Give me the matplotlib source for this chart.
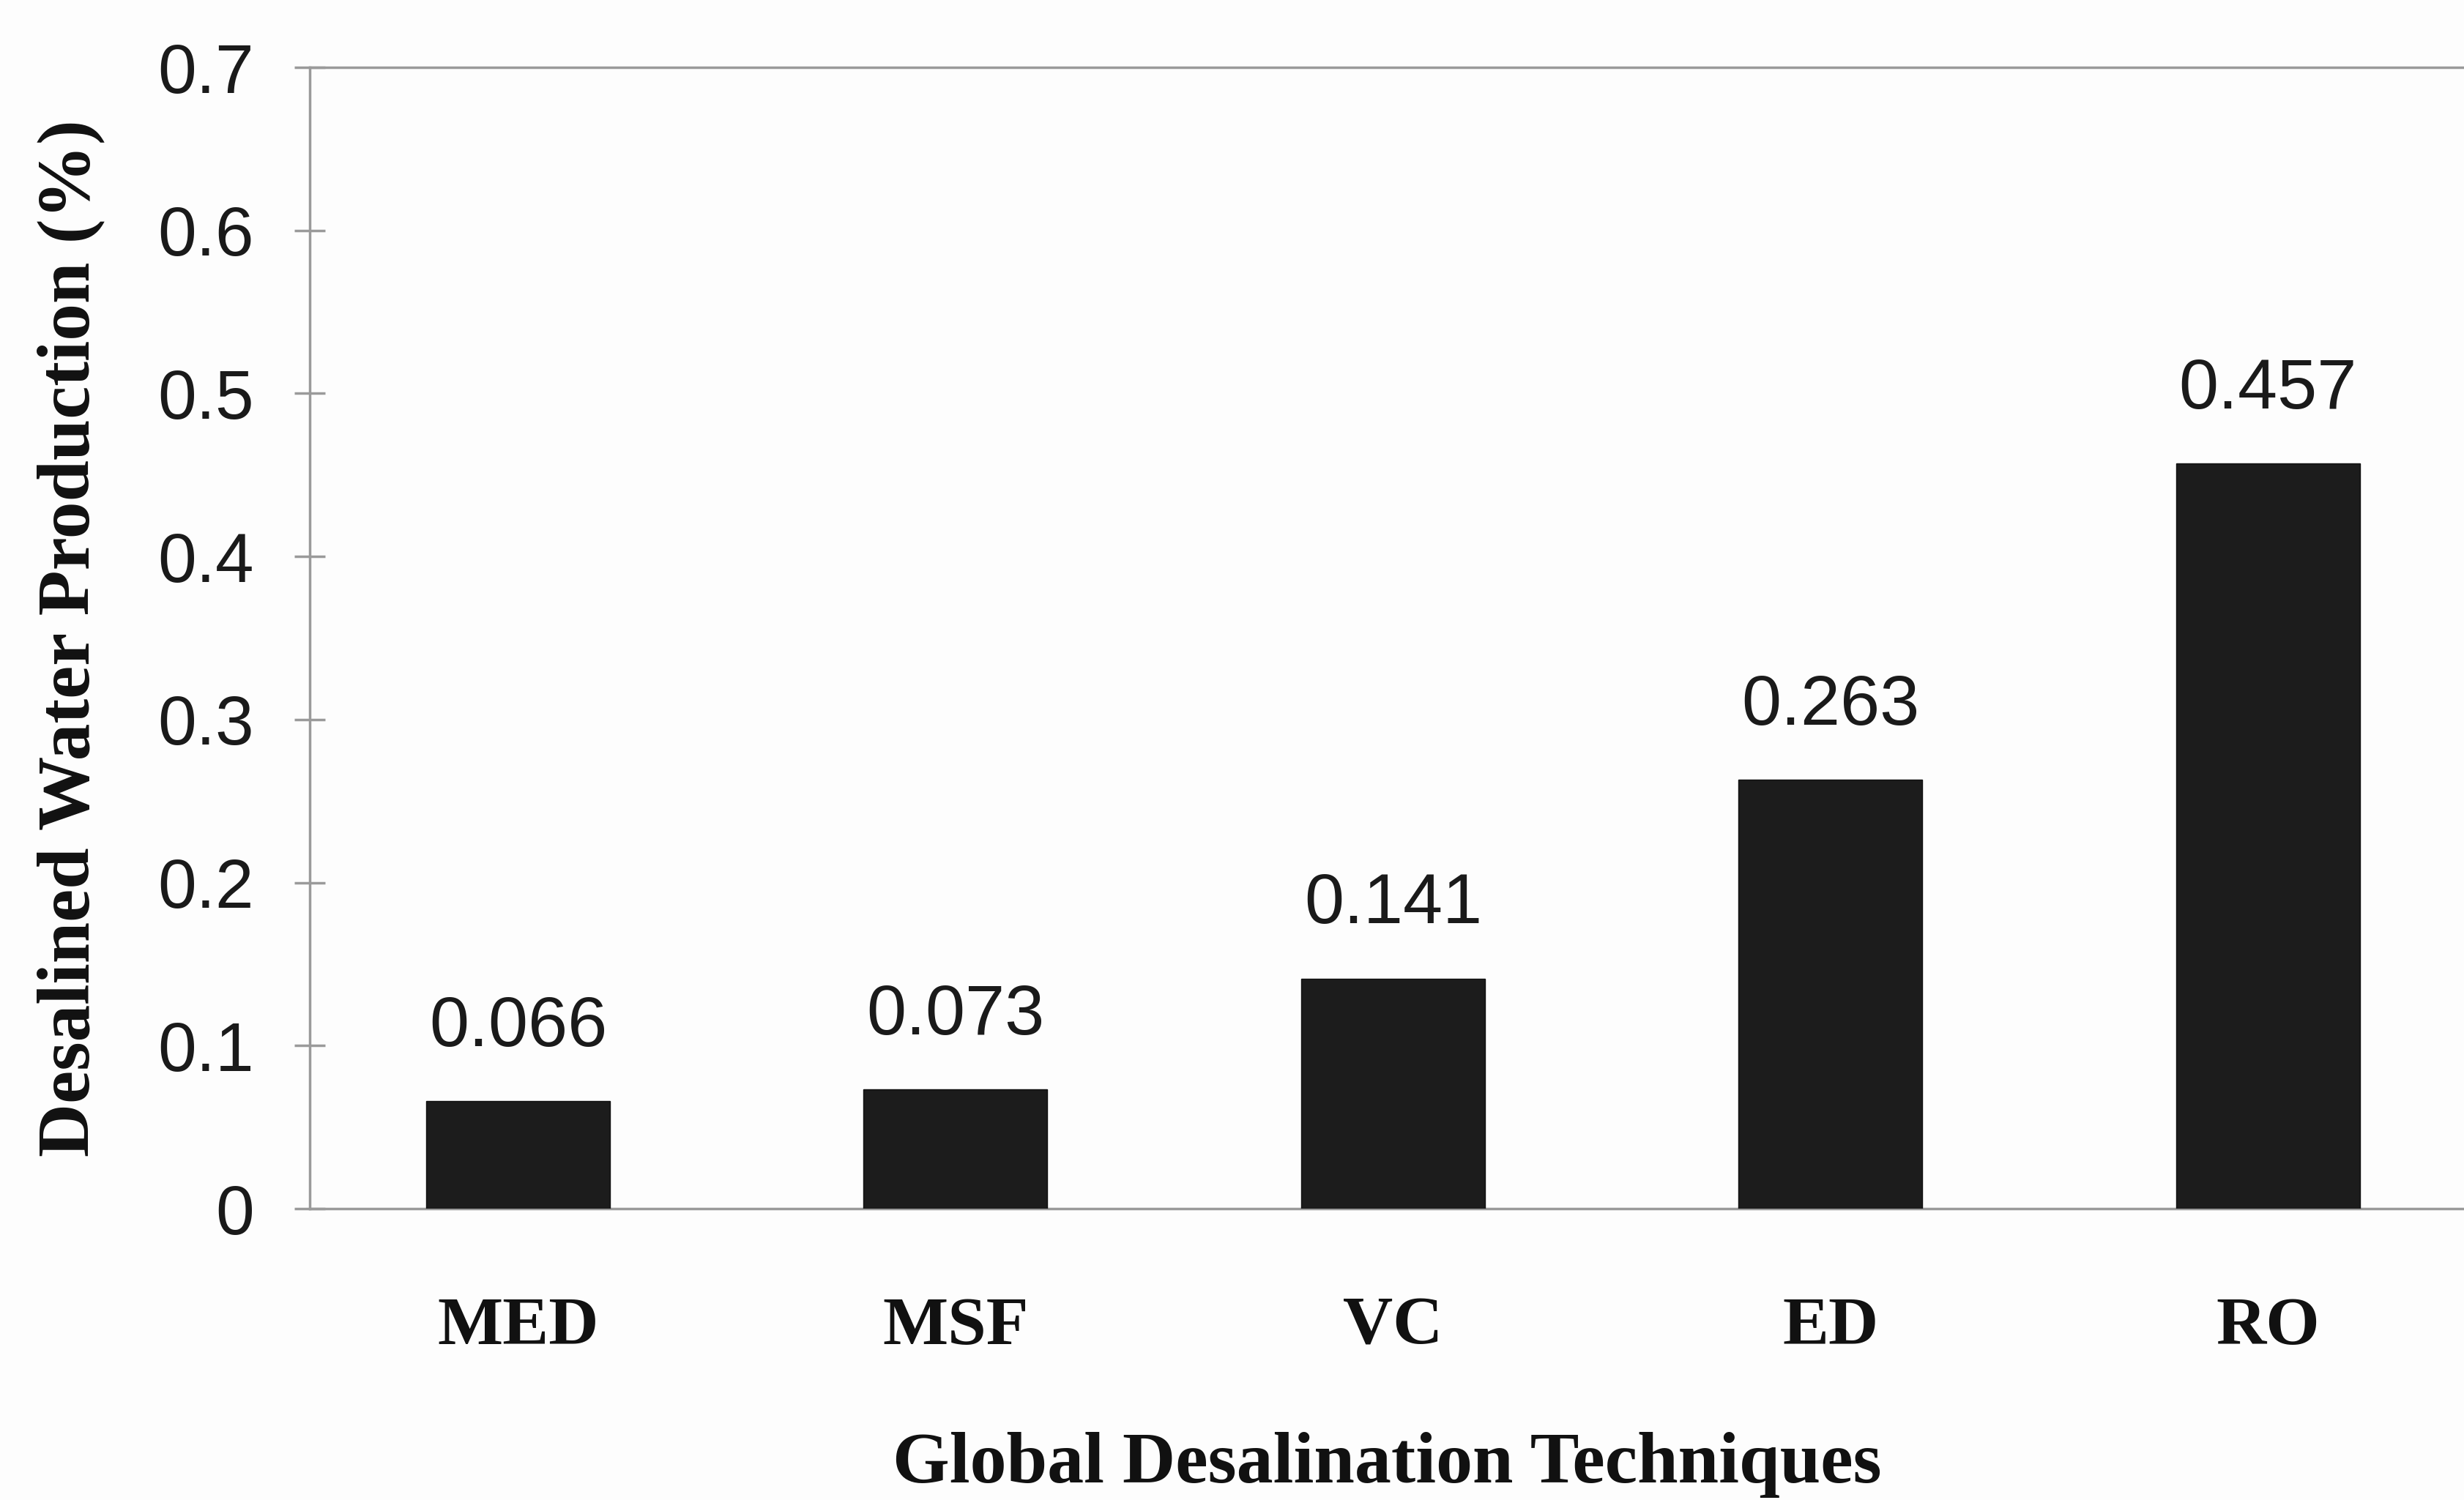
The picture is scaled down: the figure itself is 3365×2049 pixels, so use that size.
import matplotlib
matplotlib.use("Agg")
import matplotlib.pyplot as plt

techniques = ["MED", "MSF", "VC", "ED", "RO"]
production = [0.066, 0.073, 0.141, 0.263, 0.457]
yticks = [0, 0.1, 0.2, 0.3, 0.4, 0.5, 0.6, 0.7]
ytick_labels = ["0", "0.1", "0.2", "0.3", "0.4", "0.5", "0.6", "0.7"]

fig = plt.figure(figsize=(33.66, 20.49), dpi=100)
fig.patch.set_facecolor("#fdfdfd")
ax = fig.add_axes([0.1257, 0.1942, 0.8743, 0.7609])
ax.set_facecolor("#fdfdfd")

x = list(range(len(techniques)))
ax.bar(x, production, width=0.42, color="#1c1c1c", edgecolor="#111111", zorder=3)

for xi, v in zip(x, production):
    ax.annotate(f"{v:.3f}", xy=(xi, v), xytext=(0, 40), textcoords="offset points",
                ha="center", va="bottom", fontsize=70, family="Liberation Sans",
                color="#1a1a1a")

ax.set_xlim(-0.476, 4.45)
ax.set_ylim(0, 0.7)
ax.set_yticks(yticks)
ax.set_yticklabels(ytick_labels, family="Liberation Sans", fontsize=68, color="#1a1a1a")
ax.set_xticks(x)
ax.set_xticklabels(techniques, family="Liberation Serif", fontweight="bold",
                   fontsize=68, color="#111111")

ax.spines["right"].set_visible(False)
for side in ["left", "top", "bottom"]:
    ax.spines[side].set_color("#9a9a9a")
    ax.spines[side].set_linewidth(2.5)

ax.tick_params(axis="y", direction="inout", length=30, width=2.5, color="#9a9a9a", pad=40)
ax.tick_params(axis="x", length=0, pad=86)

ax.set_ylabel("Desalined Water Production (%)", family="Liberation Serif",
              fontweight="bold", fontsize=73, color="#111111", labelpad=52)
ax.set_xlabel("Global Desalination Techniques", family="Liberation Serif",
              fontweight="bold", fontsize=72, color="#111111", labelpad=72)

fig.savefig("out.png", dpi=100, facecolor=fig.get_facecolor())
